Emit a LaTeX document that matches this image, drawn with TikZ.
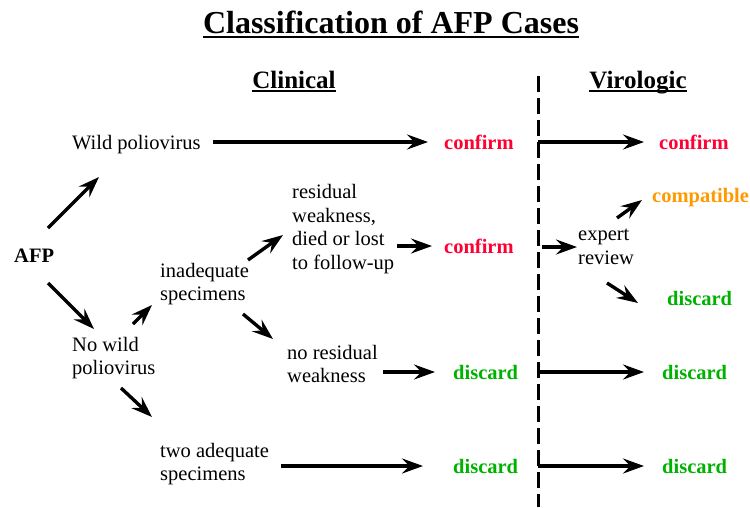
\documentclass[tikz,border=0pt]{standalone}
\usepackage{fontspec}
\setmainfont{Liberation Serif}
\usetikzlibrary{arrows.meta}
\definecolor{confred}{RGB}{255,0,51}
\definecolor{compor}{RGB}{255,153,0}
\definecolor{discgr}{RGB}{0,178,0}
\begin{document}
\begin{tikzpicture}[x=1pt,y=-1pt,
    txt/.style={anchor=west,inner sep=0pt,align=left,font=\fontsize{20.5}{23.5}\selectfont},
    res/.style={anchor=west,inner sep=0pt,font=\fontsize{20.5}{23.5}\selectfont\bfseries},
    head/.style={anchor=base,inner sep=0pt,font=\fontsize{25}{28}\selectfont\bfseries},
    arr/.style={line width=3.4pt,-{Stealth[length=21pt,width=15pt,inset=7.5pt]}}]
      \useasboundingbox (0,0) rectangle (750,507);
      \draw
        (391,33) node[anchor=base,inner sep=0pt,font=\fontsize{32}{36}\selectfont\bfseries] (title){Classification of AFP Cases}
        (294,88) node[head] (clin){Clinical}
        (638,88) node[head] (viro){Virologic}
        (14,256) node[res] (afp){AFP}
        (72,145) node[txt] (wild){Wild poliovirus}
        (72,358) node[txt] (nowild){No wild\\poliovirus}
        (160,284) node[txt] (inad){inadequate\\specimens}
        (292,229) node[txt] (resid){residual\\weakness,\\died or lost\\to follow-up}
        (287,364) node[txt] (nores){no residual\\weakness}
        (160,464) node[txt] (twoad){two adequate\\specimens}
        (444,142) node[res,text=confred] (conf1){confirm}
        (444,246) node[res,text=confred] (conf2){confirm}
        (453,372) node[res,text=discgr] (disc1){discard}
        (453,466) node[res,text=discgr] (disc2){discard}
        (659,142) node[res,text=confred] (vconf){confirm}
        (578,247) node[txt] (expert){expert\\review}
        (652,198) node[res,text=compor] (compat){compatible}
        (667,298) node[res,text=discgr] (vdisc0){discard}
        (662,372) node[res,text=discgr] (vdisc1){discard}
        (662,466) node[res,text=discgr] (vdisc2){discard};
      % underlines and divider
      \begin{scope}[line width=2.5pt]
        \draw ([yshift=-4pt]title.base west) -- ([yshift=-4pt]title.base east);
        \draw ([yshift=-3pt]clin.base west) -- ([yshift=-3pt]clin.base east);
        \draw ([yshift=-3pt]viro.base west) -- ([yshift=-3pt]viro.base east);
      \end{scope}
      \coordinate (divtop) at (538,76);
      \coordinate (divbot) at (538,507);
      \draw[line width=3pt,dash pattern=on 16pt off 6pt] (divtop) -- (divbot);
      \begin{scope}[arr]
        \draw ([shift={(34,-28)}]afp.west) to ([shift={(27,32)}]wild.west);
        \draw ([shift={(34,27)}]afp.west) to ([shift={(22,-29)}]nowild.west);
        \draw ([shift={(61,-34)}]nowild.west) to ([shift={(-8,21)}]inad.west);
        \draw ([shift={(88,-24)}]inad.west) to ([shift={(-9,6)}]resid.west);
        \draw ([shift={(83,30)}]inad.west) to ([shift={(-14,-25)}]nores.west);
        \draw ([shift={(49,30)}]nowild.west) to ([shift={(-8,-47)}]twoad.west);
        \draw ([xshift=12pt]wild.east |- conf1) to ([xshift=-16pt]conf1.west);
        \draw ([xshift=3pt]resid.east |- conf2) to ([xshift=-12pt]conf2.west);
        \draw ([xshift=5pt]nores.east |- disc1) to ([xshift=-18pt]disc1.west);
        \draw ([xshift=12pt]twoad.east |- disc2) to ([xshift=-30pt]disc2.west);
        \draw (divtop |- vconf) to ([xshift=-15pt]vconf.west);
        \draw ([xshift=4pt]divtop |- expert) to ([xshift=-1pt]expert.west);
        \draw ([shift={(39,-29)}]expert.west) to ([shift={(-10,2)}]compat.west);
        \draw ([shift={(29,36)}]expert.west) to ([shift={(-29,5)}]vdisc0.west);
        \draw (divtop |- vdisc1) to ([xshift=-18pt]vdisc1.west);
        \draw (divtop |- vdisc2) to ([xshift=-18pt]vdisc2.west);
      \end{scope}
    \end{tikzpicture}
\end{document}
